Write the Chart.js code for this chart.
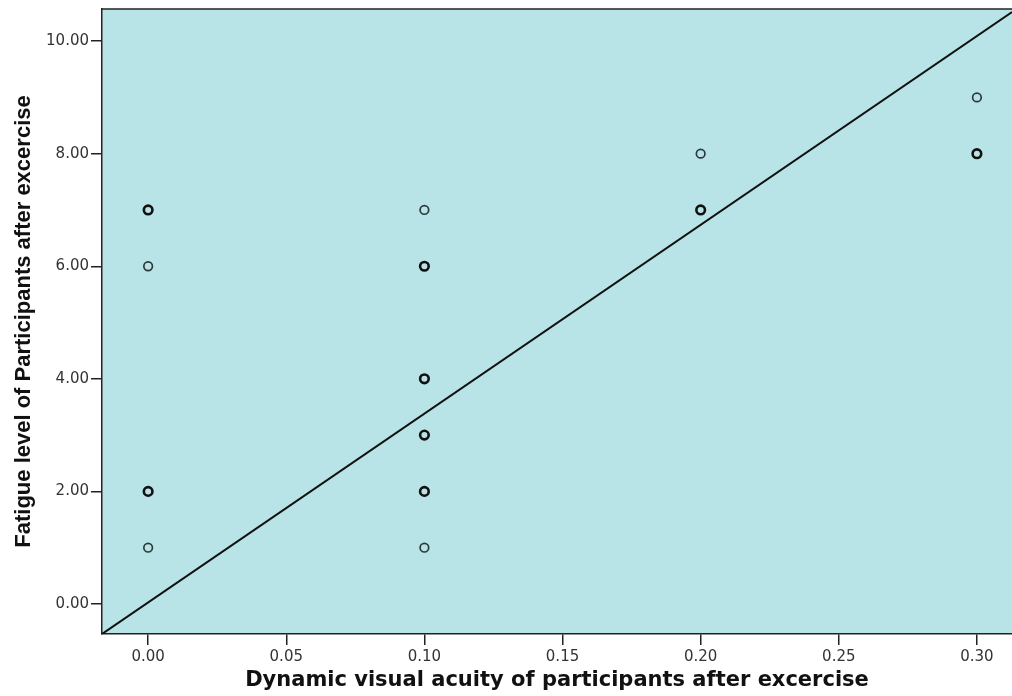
<!DOCTYPE html>
<html>
<head>
<meta charset="utf-8">
<script src="https://cdn.jsdelivr.net/npm/chart.js@4.4.0/dist/chart.umd.min.js"></script>
<style>
  html, body { margin: 0; padding: 0; background: #ffffff; }
  #wrap { width: 1012px; height: 696px; }
</style>
</head>
<body>
<div id="wrap"><canvas id="c" width="1012" height="696"></canvas></div>
<script>
// Single observations
const singleX = [0.0, 0.0, 0.1, 0.1, 0.2, 0.3];
const singleY = [6, 1, 7, 1, 8, 9];
// Overlapping (repeated) observations, drawn bolder
const multiX = [0.0, 0.0, 0.1, 0.1, 0.1, 0.1, 0.2, 0.3];
const multiY = [7, 2, 6, 4, 3, 2, 7, 8];
// Fit line endpoints
const fitX = [-0.0167, 0.3127];
const fitY = [-0.533, 10.515];
// Ticks
const xTicks = [0.00, 0.05, 0.10, 0.15, 0.20, 0.25, 0.30];
const yTicks = [0, 2, 4, 6, 8, 10];

const xTitle = 'Dynamic visual acuity of participants after excercise';
const yTitle = 'Fatigue level of Participants after excercise';

const toPts = (xs, ys) => xs.map((x, i) => ({ x: x, y: ys[i] }));

const plotBg = {
  id: 'plotBg',
  beforeDraw(chart) {
    const { ctx, chartArea: a } = chart;
    ctx.save();
    ctx.fillStyle = '#b8e4e7';
    ctx.fillRect(a.left, a.top, a.right - a.left, a.bottom - a.top);
    ctx.restore();
  },
  afterDraw(chart) {
    const { ctx, chartArea: a } = chart;
    ctx.save();
    ctx.strokeStyle = '#222';
    ctx.lineWidth = 1.5;
    ctx.beginPath();
    ctx.moveTo(a.left, a.top);
    ctx.lineTo(a.right, a.top);
    ctx.stroke();
    ctx.restore();
  }
};

new Chart(document.getElementById('c'), {
  type: 'scatter',
  data: {
    datasets: [
      {
        type: 'line',
        data: toPts(fitX, fitY),
        borderColor: '#111',
        borderWidth: 2,
        pointRadius: 0,
        fill: false,
        order: 3
      },
      {
        data: toPts(singleX, singleY),
        pointRadius: 4.3,
        pointBorderWidth: 1.7,
        pointBorderColor: '#2b3a3c',
        pointBackgroundColor: 'rgba(0,0,0,0)',
        order: 1
      },
      {
        data: toPts(multiX, multiY),
        pointRadius: 4.3,
        pointBorderWidth: 2.6,
        pointBorderColor: '#111',
        pointBackgroundColor: 'rgba(0,0,0,0)',
        order: 2
      }
    ]
  },
  options: {
    responsive: false,
    animation: false,
    devicePixelRatio: 1,
    layout: { autoPadding: false, padding: { top: 9, right: 0, bottom: 0, left: 0 } },
    plugins: { legend: { display: false }, tooltip: { enabled: false } },
    scales: {
      x: {
        type: 'linear',
        min: -0.0167,
        max: 0.3127,
        afterBuildTicks: (s) => { s.ticks = xTicks.map(v => ({ value: v })); },
        afterFit: (s) => { s.height = 62; s.paddingLeft = 0; s.paddingRight = 0; },
        grid: { drawOnChartArea: false, drawTicks: true, tickLength: 11, color: '#222', lineWidth: 1.5 },
        border: { display: true, color: '#222', width: 1.5 },
        ticks: {
          padding: 3,
          color: '#333',
          font: { family: 'DejaVu Sans', size: 15 },
          callback: (v) => Number(v).toFixed(2),
          maxRotation: 0,
          autoSkip: false
        },
        title: {
          display: true,
          text: xTitle,
          color: '#111',
          font: { family: 'DejaVu Sans', size: 21, weight: 'bold' },
          padding: { top: 0, bottom: 3 }
        }
      },
      y: {
        type: 'linear',
        min: -0.533,
        max: 10.57,
        afterBuildTicks: (s) => { s.ticks = yTicks.map(v => ({ value: v })); },
        afterFit: (s) => { s.width = 102; s.paddingTop = 0; s.paddingBottom = 0; },
        grid: { drawOnChartArea: false, drawTicks: true, tickLength: 11, color: '#222', lineWidth: 1.5 },
        border: { display: true, color: '#222', width: 1.5 },
        ticks: {
          padding: 2,
          color: '#333',
          font: { family: 'DejaVu Sans', size: 15 },
          callback: (v) => Number(v).toFixed(2),
          autoSkip: false
        },
        title: {
          display: true,
          text: yTitle,
          color: '#111',
          font: { family: 'Liberation Sans', size: 22, weight: 'bold' },
          padding: { top: 11, bottom: 0 }
        }
      }
    }
  },
  plugins: [plotBg]
});
</script>
</body>
</html>
